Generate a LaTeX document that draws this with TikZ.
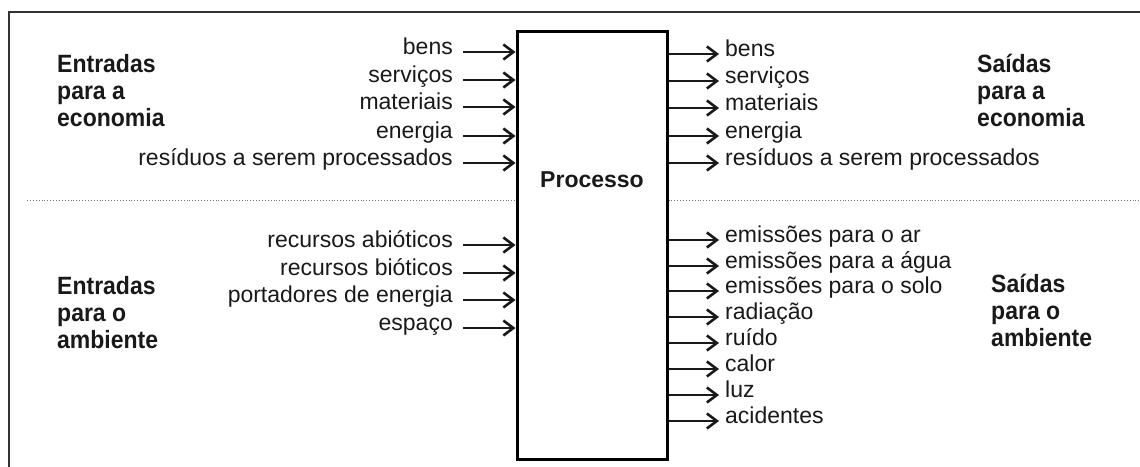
\documentclass[tikz,border=0pt]{standalone}
\usepackage{fontspec}
\setmainfont{Liberation Sans}
\newfontfamily\titfont[FakeStretch=0.92]{Liberation Sans}
\usetikzlibrary{positioning,arrows.meta}

\begin{document}
\begin{tikzpicture}[x=1pt,y=-1pt,font=\fontsize{23}{27.5}\selectfont,text=black!90,
    seta/.style={-{Straight Barb[length=10pt,width=15pt,line width=2.6pt]},line width=2.8pt,black!90},
    entrada/.style={anchor=east,inner xsep=10pt,inner ysep=0pt,text height=0.72em,text depth=0.2em},
    saida/.style={anchor=west,inner xsep=6pt,inner ysep=0pt,text height=0.72em,text depth=0.2em},
    titulo/.style={anchor=west,align=left,inner sep=0pt,font=\titfont\fontsize{25}{27}\selectfont\bfseries}]
    \useasboundingbox (0,0) rectangle (1140,466);
    \draw[line width=1.4pt,black!80] (9,480) -- (9,12) -- (1150,12);

    \node[draw,line width=3pt,minimum width=150pt,minimum height=428pt] (proc) at (592,245) {};
    \node[font=\fontsize{23}{27.5}\selectfont\bfseries] (procTxt) at (592,180) {Processo};

    \draw[dotted,line width=0.9pt,black!55] (27,200) -- (proc.west |- 0,200);
    \draw[dotted,line width=0.9pt,black!55] (proc.east |- 0,200) -- (1140,200);

    \node[titulo] (tEe) at (57,91) {Entradas\\para a\\economia};
    \node[titulo] (tEa) at (57,313) {Entradas\\para o\\ambiente};
    \node[titulo] (tSe) at (977,90) {Saídas\\para a\\economia};
    \node[titulo] (tSa) at (991,310) {Saídas\\para o\\ambiente};

    \foreach \txt/\yy [count=\i] in {bens/52,serviços/80,materiais/107,energia/136,resíduos a serem processados/163}{
        \node[entrada] (ee\i) at (463,\yy) {\txt};
        \draw[seta] (ee\i.east) -- (ee\i.east -| proc.west);
    }
    \foreach \txt/\yy [count=\i] in {recursos abióticos/245,recursos bióticos/273,portadores de energia/300,espaço/328}{
        \node[entrada] (ea\i) at (463,\yy) {\txt};
        \draw[seta] (ea\i.east) -- (ea\i.east -| proc.west);
    }
    \foreach \txt/\yy [count=\i] in {bens/54,serviços/81,materiais/108,energia/136,resíduos a serem processados/163}{
        \node[saida] (se\i) at (719,\yy) {\txt};
        \draw[seta] (se\i.west -| proc.east) -- (se\i.west);
    }
    \foreach \txt/\yy [count=\i] in {emissões para o ar/240,emissões para a água/266,emissões para o solo/291,radiação/317,ruído/343,calor/369,luz/395,acidentes/421}{
        \node[saida] (sa\i) at (719,\yy) {\txt};
        \draw[seta] (sa\i.west -| proc.east) -- (sa\i.west);
    }
\end{tikzpicture}
\end{document}
